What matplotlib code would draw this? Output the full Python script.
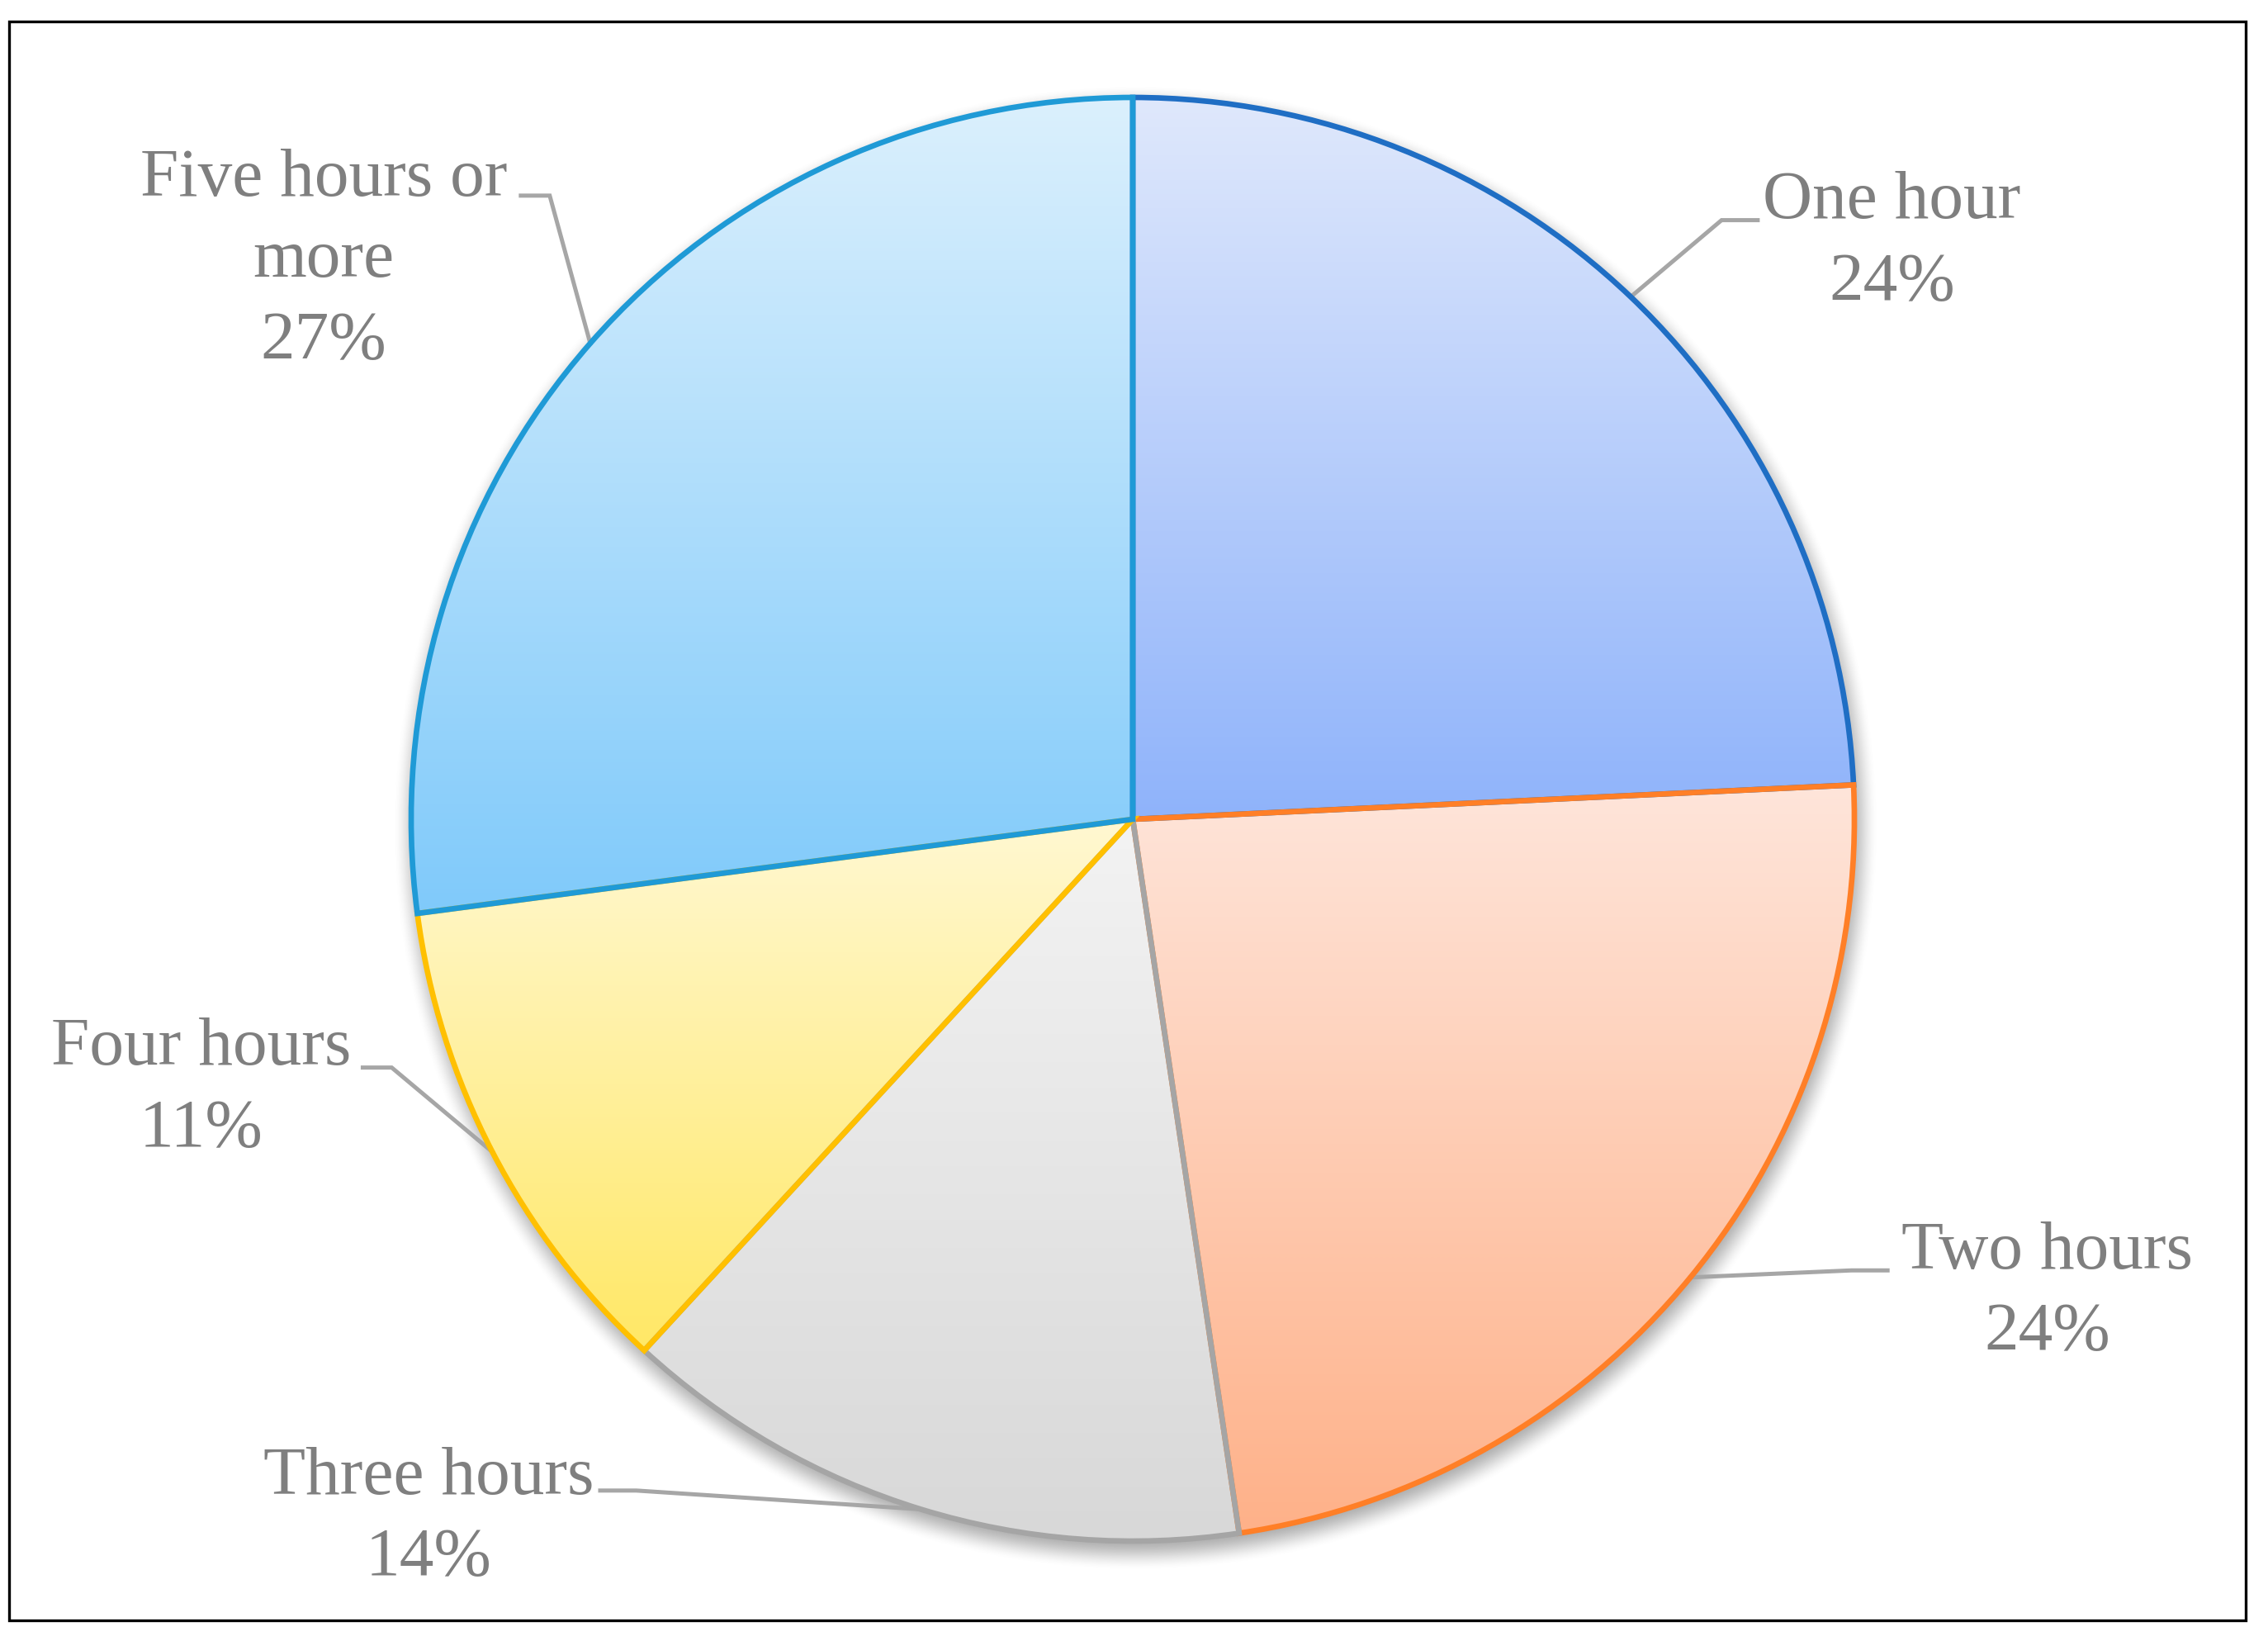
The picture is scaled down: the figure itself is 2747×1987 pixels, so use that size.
import numpy as np
import matplotlib
matplotlib.use("Agg")
import matplotlib.pyplot as plt
from matplotlib.colors import LinearSegmentedColormap
from matplotlib.patches import Rectangle

# data
categories = ["One hour", "Two hours", "Three hours", "Four hours", "Five hours or\nmore"]
shares = [24.24, 23.4, 14.19, 11.08, 27.08]
pct_labels = ["24%", "24%", "14%", "11%", "27%"]

# gradient (top, bottom) and edge colour for each slice
top_colors = ["#dfe8fc", "#fee5da", "#f3f3f3", "#fff8d2", "#dbf0fd"]
bottom_colors = ["#8fb3fa", "#ffb189", "#d8d8d8", "#ffe866", "#80cafa"]
edge_colors = ["#1f6ec4", "#ff7f27", "#a5a5a5", "#ffc000", "#1f9ad6"]

# label layout (data units, pie radius = 1)
label_xy = [(1.052, 0.799), (1.267, -0.656), (-0.976, -0.968), (-1.291, -0.374), (-1.121, 0.774)]
elbow_xy = [(0.816, 0.830), (0.996, -0.625), (-0.688, -0.930), (-1.027, -0.344), (-0.808, 0.864)]
end_xy = [(0.866, 0.830), (1.046, -0.625), (-0.738, -0.930), (-1.067, -0.344), (-0.848, 0.864)]


def main():
    fig = plt.figure(figsize=(2747 / 300, 1987 / 300), dpi=300)
    ax = fig.add_axes([0, 0, 1, 1])

    wedges, _ = ax.pie(shares, startangle=90, counterclock=False, radius=1,
                       wedgeprops=dict(facecolor="none", linewidth=1.6, zorder=3))

    # soft shadow behind the pie
    gx, gy = np.meshgrid(np.linspace(-1.2, 1.2, 900), np.linspace(-1.2, 1.2, 900))
    d = np.hypot(gx - 0.004, gy + 0.012)
    t = np.clip((d - 0.985) / 0.045, 0, 1)
    alpha = 0.5 * (1 - t * t * (3 - 2 * t))
    shadow = np.zeros((900, 900, 4))
    shadow[..., :3] = 0.35
    shadow[..., 3] = alpha
    ax.imshow(shadow, extent=(-1.2, 1.2, -1.2, 1.2), origin="lower", zorder=0,
              interpolation="bilinear")

    for i, w in enumerate(wedges):
        w.set_edgecolor(edge_colors[i])
        w.set_joinstyle("miter")
        ext = w.get_path().get_extents()
        cmap = LinearSegmentedColormap.from_list("g%d" % i, [bottom_colors[i], top_colors[i]])
        grad = np.linspace(0, 1, 256).reshape(-1, 1)
        im = ax.imshow(grad, cmap=cmap, extent=(ext.x0, ext.x1, ext.y0, ext.y1),
                       origin="lower", aspect="auto", zorder=1, interpolation="bilinear")
        im.set_clip_path(w.get_path(), ax.transData)

        mid = np.deg2rad((w.theta1 + w.theta2) / 2)
        px, py = np.cos(mid), np.sin(mid)
        ax.plot([px, elbow_xy[i][0], end_xy[i][0]], [py, elbow_xy[i][1], end_xy[i][1]],
                color="#a6a6a6", lw=1.2, zorder=2, solid_joinstyle="miter")
        ax.text(label_xy[i][0], label_xy[i][1], "%s\n%s" % (categories[i], pct_labels[i]),
                ha="center", va="center", fontsize=20, color="#7f7f7f",
                family="Liberation Serif", linespacing=1.4)

    ax.set_aspect("auto")
    ax.set_xlim(-1372 / 874, (2747 - 1372) / 874)
    ax.set_ylim(-995 / 874, 992 / 874)
    ax.axis("off")

    fig.patches.append(Rectangle((11 / 2747, 25 / 1987), 2709 / 2747, 1936 / 1987,
                                 transform=fig.transFigure, fill=False,
                                 edgecolor="black", linewidth=0.8))
    fig.savefig("out.png", dpi=300)


if __name__ == "__main__":
    main()
